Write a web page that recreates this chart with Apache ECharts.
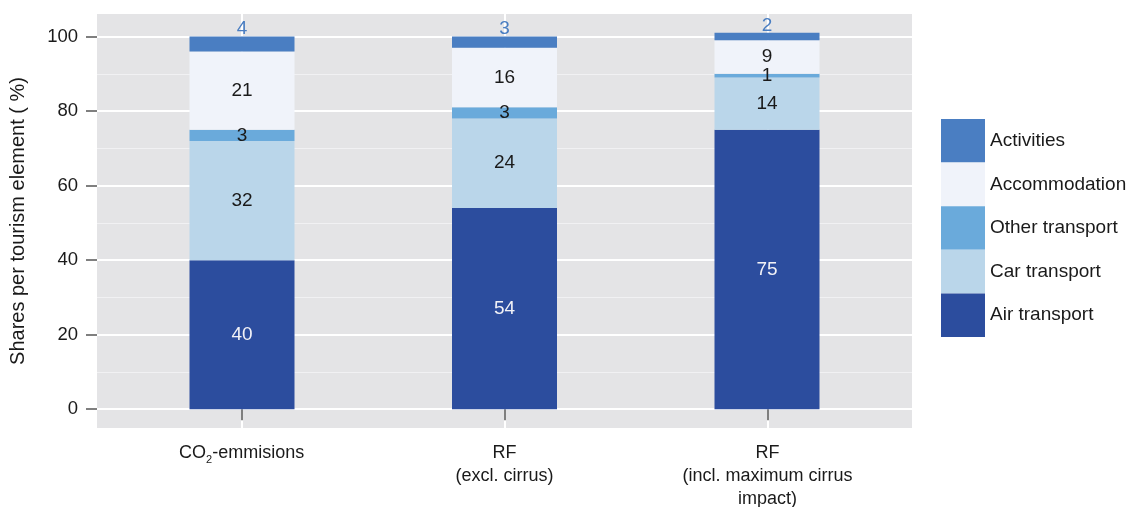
<!DOCTYPE html>
<html>
<head>
<meta charset="utf-8">
<script src="https://cdn.jsdelivr.net/npm/echarts@6/dist/echarts.min.js"></script>
<style>
  html, body { margin: 0; padding: 0; background: #fff; }
  #chart { width: 1129px; height: 507px; }
</style>
</head>
<body>
<div id="chart"></div>
<script>
// categories and stacked shares
const categories = ['CO{sub|2}-emmisions', 'RF\n(excl. cirrus)', 'RF\n(incl. maximum cirrus\nimpact)'];
const airTransport = [40, 54, 75];
const carTransport = [32, 24, 14];
const otherTransport = [3, 3, 1];
const accommodation = [21, 16, 9];
const activities = [4, 3, 2];
const yTicks = [0, 20, 40, 60, 80, 100];
const yMinorTicks = [10, 30, 50, 70, 90];
const xPositions = [1, 2, 3];

const colors = {
  air: '#2c4d9e',
  car: '#bad6ea',
  other: '#6aaadb',
  accommodation: '#f0f3fa',
  activities: '#4a7ec2'
};
const font = 'Liberation Sans, Arial, sans-serif';
const yMin = -5.05, yMax = 106.05;

const chart = echarts.init(document.getElementById('chart'));

function barSeries(name, data, color, labelColor, position) {
  return {
    name: name,
    type: 'bar',
    stack: 'total',
    xAxisIndex: 1,
    yAxisIndex: 1,
    barWidth: 105,
    data: data,
    itemStyle: { color: color },
    label: {
      show: true,
      position: position || 'inside',
      distance: position ? -2 : 0,
      color: labelColor,
      fontFamily: font,
      fontSize: 19
    }
  };
}

const option = {
  animation: false,
  grid: [
    // panel (background + grid lines + axes)
    { left: 97, right: 217, top: 14, bottom: 79, show: true, backgroundColor: '#e4e4e6', borderWidth: 0, outerBoundsMode: 'none' },
    // bars
    { left: 110.75, right: 230.75, top: 14, bottom: 79, outerBoundsMode: 'none' }
  ],
  legend: {
    orient: 'vertical',
    left: 941,
    top: 119,
    padding: 0,
    itemWidth: 44,
    itemHeight: 43.6,
    itemGap: 0,
    icon: 'rect',
    selectedMode: false,
    data: ['Activities', 'Accommodation', 'Other transport', 'Car transport', 'Air transport'],
    textStyle: { fontFamily: font, fontSize: 19, color: '#1a1a1a' }
  },
  xAxis: [
    {
      type: 'value',
      gridIndex: 0,
      min: 0.45,
      max: 3.55,
      axisLine: { show: false },
      axisTick: { show: true, customValues: xPositions, length: 11, lineStyle: { color: '#555', width: 1.5 } },
      axisLabel: {
        customValues: xPositions,
        margin: 14,
        fontFamily: font,
        fontSize: 18,
        lineHeight: 23,
        color: '#1a1a1a',
        formatter: function (v) { return categories[Math.round(v) - 1]; },
        rich: {
          sub: { fontFamily: font, fontSize: 11, lineHeight: 23, verticalAlign: 'bottom', color: '#1a1a1a' }
        }
      },
      splitLine: { show: true, lineStyle: { color: '#ffffff', width: 2 } }
    },
    {
      type: 'category',
      gridIndex: 1,
      data: ['a', 'b', 'c'],
      show: false
    }
  ],
  yAxis: [
    {
      type: 'value',
      gridIndex: 0,
      min: yMin,
      max: yMax,
      name: 'Shares per tourism element ( %)',
      nameLocation: 'middle',
      nameGap: 69,
      nameTextStyle: { fontFamily: font, fontSize: 20, color: '#1a1a1a' },
      axisLine: { show: false },
      axisTick: { show: true, customValues: yTicks, length: 11, lineStyle: { color: '#555', width: 1.5 } },
      axisLabel: { customValues: yTicks, margin: 19, fontFamily: font, fontSize: 18.5, color: '#1a1a1a' },
      splitLine: { show: true, lineStyle: { color: '#ffffff', width: 2 } }
    },
    {
      type: 'value',
      gridIndex: 1,
      min: yMin,
      max: yMax,
      show: false,
      splitLine: { show: false }
    },
    {
      type: 'value',
      gridIndex: 0,
      min: yMin,
      max: yMax,
      axisLine: { show: false },
      axisTick: { show: false, customValues: yMinorTicks },
      axisLabel: { show: false, customValues: yMinorTicks },
      splitLine: { show: true, lineStyle: { color: '#f1f1f3', width: 1 } }
    }
  ],
  series: [
    barSeries('Air transport', airTransport, colors.air, '#f2f2f7'),
    barSeries('Car transport', carTransport, colors.car, '#1a1a1a'),
    barSeries('Other transport', otherTransport, colors.other, '#1a1a1a'),
    barSeries('Accommodation', accommodation, colors.accommodation, '#1a1a1a'),
    barSeries('Activities', activities, colors.activities, colors.activities, 'top')
  ]
};

chart.setOption(option);
</script>
</body>
</html>
